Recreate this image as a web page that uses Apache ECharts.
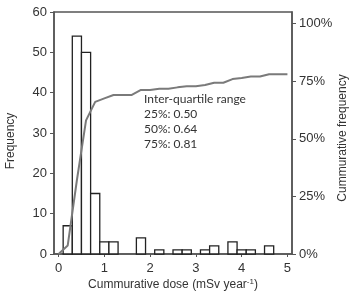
<!DOCTYPE html>
<html><head><meta charset="utf-8">
<script src="https://cdn.jsdelivr.net/npm/echarts@6/dist/echarts.min.js"></script>
<style>html,body{margin:0;padding:0;background:#fff}#c{width:349px;height:292px}</style>
</head><body><div id="c"></div>
<script>
// Histogram bins (centre of 0.2-wide bin) and frequencies
var binCentres = [0.2, 0.4, 0.6, 0.8, 1.0, 1.2, 1.8, 2.2, 2.6, 2.8, 3.2, 3.4, 3.8, 4.0, 4.2, 4.6];
var frequencies = [7, 54, 50, 15, 3, 3, 4, 1, 1, 1, 1, 2, 3, 1, 1, 2];
// Cumulative frequency curve (%)
var cumX = [0, 0.2, 0.4, 0.6, 0.8, 1.0, 1.2, 1.4, 1.6, 1.8, 2.0, 2.2, 2.4, 2.6, 2.8, 3.0, 3.2, 3.4, 3.6, 3.8, 4.0, 4.2, 4.4, 4.6, 4.8, 5.0];
var cumPct = [0, 3.7, 32, 58, 66, 67.5, 69, 69, 69, 71.2, 71.2, 71.7, 71.7, 72.3, 72.8, 72.8, 73.3, 74.3, 74.3, 75.9, 76.4, 77, 77, 78, 78, 78];
var binWidth = 0.2;
var xTicks = [0, 1, 2, 3, 4, 5];
var rightTicks = [0, 25, 50, 75, 100];
var annotation = ['Inter-quartile range', '25%: 0.50', '50%: 0.64', '75%: 0.81'];

var histData = binCentres.map(function (x, i) { return [x, frequencies[i]]; });
var cumData = cumX.map(function (x, i) { return [x, cumPct[i]]; });

var axisCol = '#555';
var txtCol = '#333';
var font = "'Liberation Sans', Arial, sans-serif";

var chart = echarts.init(document.getElementById('c'), null, {renderer: 'canvas'});
chart.setOption({
  animation: false,
  grid: {left: 54, right: 57, top: 12, bottom: 38, show: true, borderColor: axisCol, borderWidth: 1.5,
    backgroundColor: 'transparent', containLabel: false, outerBoundsMode: 'none'},
  xAxis: {
    type: 'value', min: -0.1, max: 5.1,
    name: 'Cummurative dose (mSv year{sup|-1})',
    nameLocation: 'middle', nameGap: 24, nameMoveOverlap: false,
    nameTextStyle: {fontFamily: font, fontSize: 12, color: txtCol,
      rich: {sup: {fontSize: 8, verticalAlign: 'top', padding: [0, 0, 6, 0], fontFamily: font, color: txtCol}}},
    axisLine: {onZero: false, lineStyle: {color: axisCol, width: 1.5}},
    axisTick: {show: true, length: 3, customValues: xTicks, lineStyle: {color: axisCol}},
    axisLabel: {customValues: xTicks, fontFamily: font, fontSize: 13, color: txtCol, margin: 8},
    splitLine: {show: false}
  },
  yAxis: [{
    type: 'value', min: 0, max: 60, interval: 10,
    name: 'Frequency', nameLocation: 'middle', nameGap: 37,
    nameTextStyle: {fontFamily: font, fontSize: 12, color: txtCol, padding: [0, 16, 0, 0]},
    axisLine: {show: true, onZero: false, lineStyle: {color: axisCol, width: 1.5}},
    axisTick: {show: true, length: 4, lineStyle: {color: axisCol}},
    axisLabel: {fontFamily: font, fontSize: 13, color: txtCol, margin: 7},
    splitLine: {show: false}
  }, {
    type: 'value', min: 0, max: 105, position: 'right',
    name: 'Cummurative frequency', nameLocation: 'middle', nameGap: 45, nameRotate: 90, nameMoveOverlap: false,
    nameTextStyle: {fontFamily: font, fontSize: 12, color: txtCol, padding: [0, 10, 0, 0]},
    axisLine: {show: true, onZero: false, lineStyle: {color: axisCol, width: 1.5}},
    axisTick: {show: true, length: 4, customValues: rightTicks, lineStyle: {color: axisCol}},
    axisLabel: {customValues: rightTicks, fontFamily: font, fontSize: 13, color: txtCol, margin: 7,
      formatter: function (v) { return v + '%'; }},
    splitLine: {show: false}
  }],
  series: [{
    type: 'custom',
    yAxisIndex: 0,
    data: histData,
    renderItem: function (params, api) {
      var x = api.value(0), y = api.value(1);
      var p1 = api.coord([x - binWidth / 2, y]);
      var p2 = api.coord([x + binWidth / 2, 0]);
      return {type: 'rect', shape: {x: p1[0], y: p1[1], width: p2[0] - p1[0], height: p2[1] - p1[1]},
        style: {fill: '#fff', stroke: '#222', lineWidth: 1.3}};
    },
    z: 2
  }, {
    type: 'line',
    yAxisIndex: 1,
    data: cumData,
    showSymbol: false,
    symbol: 'none',
    lineStyle: {color: '#7a7a7a', width: 2},
    z: 3
  }],
  graphic: annotation.map(function (t, i) {
    return {type: 'text', left: 144, top: 93 + i * 15,
      style: {text: t, fontFamily: "Lato, 'Open Sans', sans-serif", fontSize: 12, fill: '#333'}};
  })
});
</script></body></html>
